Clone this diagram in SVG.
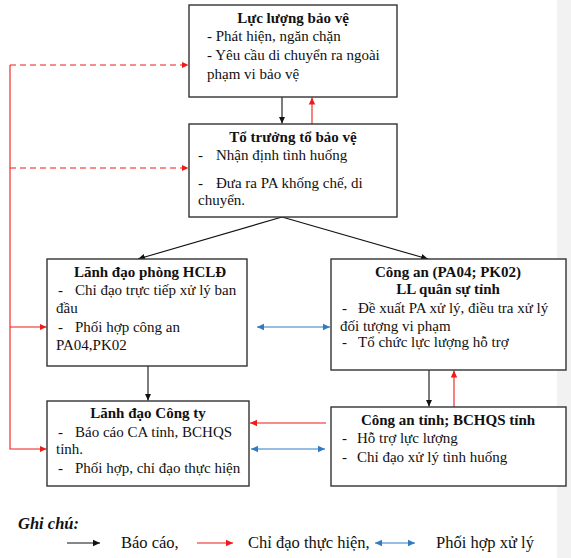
<svg xmlns="http://www.w3.org/2000/svg" width="571" height="558" viewBox="0 0 571 558">
<style>
.box{fill:#fff;stroke:#333;stroke-width:1.4}
.t{font-family:"Liberation Serif","Times New Roman",serif;font-size:15px;fill:#111}
.b{font-weight:bold;text-anchor:middle}
.k{stroke:#111;stroke-width:1.1;fill:none}
.r{stroke:#f01a1a;stroke-width:1.1;fill:none}
.d{stroke-dasharray:6,4}
.u{stroke:#2f7ac3;stroke-width:1.2;fill:none}
.lg{font-family:"Liberation Serif","Times New Roman",serif;font-size:16.5px;fill:#111}
</style>
<defs>
<marker id="ak" markerUnits="userSpaceOnUse" markerWidth="8" markerHeight="8" refX="7" refY="4" orient="auto"><path d="M0,0.8 L7,4 L0,7.2z" fill="#111"/></marker>
<marker id="ar" markerUnits="userSpaceOnUse" markerWidth="8" markerHeight="8" refX="7" refY="4" orient="auto"><path d="M0,0.8 L7,4 L0,7.2z" fill="#f01a1a"/></marker>
<marker id="ab" markerUnits="userSpaceOnUse" markerWidth="8" markerHeight="8" refX="7" refY="4" orient="auto"><path d="M0,0.8 L7,4 L0,7.2z" fill="#2f7ac3"/></marker>
<marker id="abs" markerUnits="userSpaceOnUse" markerWidth="8" markerHeight="8" refX="0" refY="4" orient="auto"><path d="M7,0.8 L0,4 L7,7.2z" fill="#2f7ac3"/></marker>
</defs>
<rect x="557" y="0" width="14" height="558" fill="#f2f2f2"/>
<g id="connectors">
<line class="k" x1="282" y1="97" x2="282" y2="123.5" marker-end="url(#ak)"/>
<line class="r" x1="312" y1="124" x2="312" y2="97.5" marker-end="url(#ar)"/>
<line class="k" x1="282" y1="217" x2="138" y2="259" marker-end="url(#ak)"/>
<line class="k" x1="282" y1="217" x2="428" y2="259" marker-end="url(#ak)"/>
<line class="k" x1="148" y1="366" x2="148" y2="400.5" marker-end="url(#ak)"/>
<line class="k" x1="429" y1="370" x2="429" y2="406.5" marker-end="url(#ak)"/>
<line class="r" x1="454" y1="407" x2="454" y2="370.5" marker-end="url(#ar)"/>
<line class="u" x1="257" y1="327" x2="330" y2="327" marker-start="url(#abs)" marker-end="url(#ab)"/>
<line class="r" x1="326" y1="423" x2="250" y2="423" marker-end="url(#ar)"/>
<line class="u" x1="251" y1="449" x2="325" y2="449" marker-start="url(#abs)" marker-end="url(#ab)"/>
<polyline class="r" points="10,65 10,449 46.5,449" marker-end="url(#ar)"/>
<line class="r" x1="10" y1="327" x2="46.5" y2="327" marker-end="url(#ar)"/>
<line class="r d" x1="10" y1="65" x2="188.5" y2="65" marker-end="url(#ar)"/>
<line class="r d" x1="10" y1="168" x2="188.5" y2="168" marker-end="url(#ar)"/>
</g>
<g id="n1">
<rect class="box" x="189" y="5" width="208" height="92"/>
<text class="t b" x="293" y="23">Lực lượng bảo vệ</text>
<text class="t" x="207" y="41">- Phát hiện, ngăn chặn</text>
<text class="t" x="207" y="60">- Yêu cầu di chuyển ra ngoài</text>
<text class="t" x="207" y="79">phạm vi bảo vệ</text>
</g>
<g id="n2">
<rect class="box" x="189" y="124" width="208" height="93"/>
<text class="t b" x="293" y="142">Tổ trưởng tổ bảo vệ</text>
<text class="t" x="198" y="160">-</text><text class="t" x="216" y="160">Nhận định tình huống</text>
<text class="t" x="198" y="188">-</text><text class="t" x="216" y="188">Đưa ra PA khống chế, di</text>
<text class="t" x="198" y="205">chuyển.</text>
</g>
<g id="n3">
<rect class="box" x="47" y="259" width="200" height="107"/>
<text class="t b" x="150" y="277">Lãnh đạo phòng HCLĐ</text>
<text class="t" x="58" y="295">-</text><text class="t" x="75" y="295">Chỉ đạo trực tiếp xử lý ban</text>
<text class="t" x="56" y="313">đầu</text>
<text class="t" x="58" y="332">-</text><text class="t" x="75" y="332">Phối hợp công an</text>
<text class="t" x="56" y="350">PA04,PK02</text>
</g>
<g id="n4">
<rect class="box" x="331" y="259" width="235" height="111"/>
<text class="t b" x="448" y="277">Công an (PA04; PK02)</text>
<text class="t b" x="448" y="294">LL quân sự tỉnh</text>
<text class="t" x="342" y="313">-</text><text class="t" x="358" y="313">Đề xuất PA xử lý, điều tra xử lý</text>
<text class="t" x="340" y="331">đối tượng vi phạm</text>
<text class="t" x="342" y="347">-</text><text class="t" x="358" y="347">Tổ chức lực lượng hỗ trợ</text>
</g>
<g id="n5">
<rect class="box" x="47" y="401" width="202" height="85"/>
<text class="t b" x="148" y="418">Lãnh đạo Công ty</text>
<text class="t" x="58" y="437">-</text><text class="t" x="75" y="437">Báo cáo CA tỉnh, BCHQS</text>
<text class="t" x="56" y="454">tỉnh.</text>
<text class="t" x="58" y="473">-</text><text class="t" x="75" y="473">Phối hợp, chỉ đạo thực hiện</text>
</g>
<g id="n6">
<rect class="box" x="331" y="407" width="235" height="79"/>
<text class="t b" x="448" y="425">Công an tỉnh; BCHQS tỉnh</text>
<text class="t" x="342" y="443">-</text><text class="t" x="357" y="443">Hỗ trợ lực lượng</text>
<text class="t" x="342" y="462">-</text><text class="t" x="357" y="462">Chỉ đạo xử lý tình huống</text>
</g>
<g id="legend">
<text class="lg" x="18" y="529" font-weight="bold" font-style="italic">Ghi chú:</text>
<line class="k" x1="67" y1="543" x2="100" y2="543" marker-end="url(#ak)"/>
<text class="lg" x="121" y="548">Báo cáo,</text>
<line class="r" x1="197" y1="543" x2="233" y2="543" marker-end="url(#ar)"/>
<text class="lg" x="248" y="548">Chỉ đạo thực hiện,</text>
<line class="u" x1="375" y1="543" x2="415" y2="543" marker-start="url(#abs)" marker-end="url(#ab)"/>
<text class="lg" x="436" y="548">Phối hợp xử lý</text>
</g>
</svg>
